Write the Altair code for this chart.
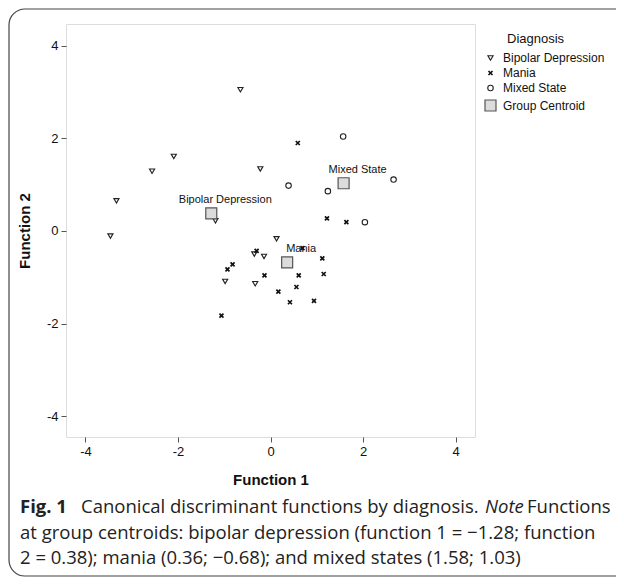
import altair as alt
import pandas as pd

# ---- data ----
bd_f1 = [-0.65, -2.09, -2.56, -0.22, -3.33, -3.46, -1.19, 0.13, -0.35, -0.14, -0.98, -0.33]
bd_f2 = [3.05, 1.61, 1.29, 1.34, 0.65, -0.11, 0.22, -0.17, -0.50, -0.55, -1.09, -1.14]
ma_f1 = [0.59, 1.22, 1.64, -0.30, 0.69, 1.12, 1.15, -0.82, -0.93, -0.13, 0.61, 0.56, 0.17, 0.42, 0.94, -1.06]
ma_f2 = [1.90, 0.27, 0.19, -0.43, -0.37, -0.59, -0.93, -0.72, -0.83, -0.96, -0.96, -1.21, -1.31, -1.54, -1.51, -1.83]
mx_f1 = [1.57, 2.66, 0.39, 1.24, 2.04]
mx_f2 = [2.04, 1.11, 0.98, 0.86, 0.19]
centroid_names = ["Bipolar Depression", "Mania", "Mixed State"]
centroid_f1 = [-1.28, 0.36, 1.58]
centroid_f2 = [0.38, -0.68, 1.03]
series_names = ["Bipolar Depression", "Mania", "Mixed State", "Group Centroid"]
tick_values = [-4, -2, 0, 2, 4]
caption_line2 = "at group centroids: bipolar depression (function 1 = \u22121.28; function"
caption_line3 = "2 = 0.38); mania (0.36; \u22120.68); and mixed states (1.58; 1.03)"

rows = []
for xs_, ys_, name in [(bd_f1, bd_f2, "Bipolar Depression"),
                       (ma_f1, ma_f2, "Mania"),
                       (mx_f1, mx_f2, "Mixed State"),
                       (centroid_f1, centroid_f2, "Group Centroid")]:
    for a, b in zip(xs_, ys_):
        rows.append({"f1": a, "f2": b, "series": name})
pts = pd.DataFrame(rows)
cent = pd.DataFrame({"f1": centroid_f1, "f2": centroid_f2, "label": centroid_names})

W, H = 409, 413
FONT = "Liberation Sans"
CAP = "Open Sans"
CAPSIZE = 18.5

xs = alt.Scale(domain=[-4.42, 4.42], nice=False, zero=False)
ys = alt.Scale(domain=[-4.45, 4.47], nice=False, zero=False)

xaxis = alt.Axis(values=tick_values, grid=False, domain=False, tickSize=5, tickColor="#555",
                 labelExpr="toString(datum.value)",
                 labelFont=FONT, labelFontSize=13, labelColor="#111", labelPadding=3,
                 title="Function 1", titleFont=FONT, titleFontSize=15, titleFontWeight="bold",
                 titleColor="#111", titlePadding=14)
yaxis = alt.Axis(values=tick_values, grid=False, domain=False, tickSize=5, tickColor="#555",
                 labelExpr="toString(datum.value)",
                 labelFont=FONT, labelFontSize=13, labelColor="#111", labelPadding=3,
                 title="Function 2", titleFont=FONT, titleFontSize=15, titleFontWeight="bold",
                 titleColor="#111", titlePadding=14)

def oscale(rng):
    return alt.Scale(type="ordinal", domain=series_names, range=rng)

points = alt.Chart(pts).mark_point(filled=False, opacity=1).encode(
    x=alt.X("f1:Q", scale=xs, axis=xaxis),
    y=alt.Y("f2:Q", scale=ys, axis=yaxis),
    shape=alt.Shape("series:N", scale=alt.Scale(domain=series_names,
                    range=["triangle-down", "M-1,-1L1,1M1,-1L-1,1", "circle", "square"]),
                    legend=alt.Legend(title=None, orient="none", legendX=418, legendY=28,
                                      labelFont=FONT, labelFontSize=12, labelColor="#111",
                                      labelOffset=6, rowPadding=3, padding=0,
                                      symbolOpacity=1)),
    size=alt.Size("series:N", scale=oscale([26, 16, 30, 121])),
    strokeWidth=alt.StrokeWidth("series:N", scale=oscale([1.15, 1.7, 1.1, 1.2])),
    fill=alt.Fill("series:N", scale=alt.Scale(domain=series_names,
                  range=["white", "white", "white", "#dcdcdc"])),
    stroke=alt.Stroke("series:N", scale=alt.Scale(domain=series_names,
                      range=["#222", "#111", "#222", "#555"])),
)

labels = alt.Chart(cent).mark_text(font=FONT, fontSize=11, color="#111", dx=14, dy=-13).encode(
    x=alt.X("f1:Q", scale=xs), y=alt.Y("f2:Q", scale=ys), text="label:N")

one = pd.DataFrame({"k": [0]})

legend_title = alt.Chart(one).mark_text(font=FONT, fontSize=13, color="#111", align="left",
                                        baseline="middle", text="Diagnosis").encode(
    x=alt.value(441), y=alt.value(15))

border = alt.Chart(one).mark_rect(fill=None, stroke="#444", strokeWidth=1.2, cornerRadius=16).encode(
    x=alt.value(-57), x2=alt.value(620), y=alt.value(-15), y2=alt.value(552))

def cap(text, px, py, **kw):
    return alt.Chart(one).mark_text(font=CAP, fontSize=CAPSIZE, color="#222", align="left",
                                    baseline="middle", text=text, **kw).encode(
        x=alt.value(px - 66), y=alt.value(py - 24))

cap1a = cap("Fig. 1", 20, 507, fontWeight="bold")
cap1b = cap("Canonical discriminant functions by diagnosis.", 81, 507)
cap1c = cap("Note", 485, 507, fontStyle="italic")
cap1d = cap("Functions", 527, 507)
cap2 = cap(caption_line2, 20, 533)
cap3 = cap(caption_line3, 20, 558)

chart = alt.layer(border, points, labels, legend_title, cap1a, cap1b, cap1c, cap1d, cap2, cap3).properties(
    width=W, height=H,
    autosize=alt.AutoSizeParams(type="none"),
    padding={"left": 58, "top": 16, "right": 141, "bottom": 140},
).configure_view(stroke="#6a6a6a", strokeWidth=1.5).configure(background="white")

chart.save("out.html", embed_options={"renderer": "svg", "actions": False})
